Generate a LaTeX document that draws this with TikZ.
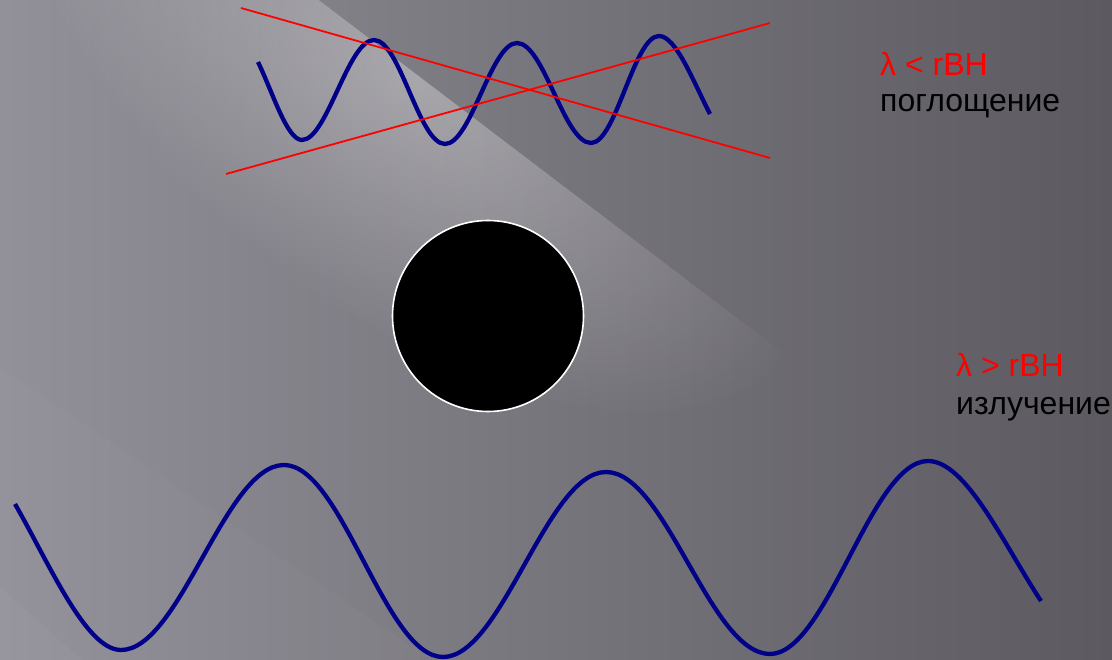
\documentclass[tikz,border=0pt]{standalone}
\usepackage{fontspec}
\setmainfont{Liberation Sans}
\definecolor{bgleft}{RGB}{146,144,152}
\definecolor{bgright}{RGB}{92,90,96}
\definecolor{wavenavy}{RGB}{0,0,136}
\definecolor{crossred}{RGB}{255,0,0}
\begin{document}
\begin{tikzpicture}[x=1pt,y=-1pt,
  wave/.style={draw=wavenavy, line width=4.3pt, line join=round},
  cross/.style={draw=crossred, line width=1.8pt},
  caption/.style={font=\fontsize{32}{38}\selectfont, anchor=base west, inner sep=0pt},
  hole/.style={circle, fill=black, draw=white, line width=1.6pt, minimum size=191pt, inner sep=0pt},
  glow/.style={fill=white, opacity=#1}]
\useasboundingbox (0,0) rectangle (1112,660);

% slide background: grey gradient
\shade[left color=bgleft, right color=bgright] (0,0) rectangle (1112,660);

% main light streak, sharp on its upper right edge, soft elsewhere
\begin{scope}
  \clip (316,-2) -- (1200,670) -- (-10,670) -- (-10,-2) -- cycle;
  \begin{scope}[transform canvas={shift={(420,79)}, rotate=-37.2}]
    \shade[blend mode=screen, inner color=white!32!black, outer color=black]
      (-460,-235) rectangle (460,235);
  \end{scope}
\end{scope}

% faint secondary streaks in the lower left
\begin{scope}
  \clip (0,367) -- (420,652) -- (420,670) -- (-10,670) -- cycle;
  \fill[glow=0.025] (-10,300) rectangle (420,670);
\end{scope}
\fill[glow=0.03] (0,587) -- (82,660) -- (0,660) -- cycle;

% short wave (absorbed) with its crossing-out lines
\draw[wave] (258,62) .. controls (273,93) and (287,140) .. (302,140)
  .. controls (327,140) and (348,40) .. (374,40)
  .. controls (400,40) and (419,144) .. (445,144)
  .. controls (471,144) and (491,43) .. (517,43)
  .. controls (544,43) and (564,143) .. (591,143)
  .. controls (616,143) and (634,36) .. (659,36)
  .. controls (676,36) and (693,81) .. (710,114);

\coordinate (xa1) at (241,8);
\coordinate (xa2) at (770,158);
\coordinate (xb1) at (226,174);
\coordinate (xb2) at (770,23);
\draw[cross] (xa1) -- (xa2);
\draw[cross] (xb1) -- (xb2);

% black hole
\node[hole] (bh) at (488,316) {};

% long wave (emitted)
\draw[wave] (15,504) .. controls (50,565) and (86,650) .. (121,650)
  .. controls (180,650) and (225,465) .. (284,465)
  .. controls (342,465) and (385,657) .. (443,657)
  .. controls (502,657) and (547,472) .. (606,472)
  .. controls (666,472) and (710,654) .. (770,654)
  .. controls (827,654) and (871,461) .. (928,461)
  .. controls (966,461) and (1003,543) .. (1041,601);

% captions
\node[caption, text=crossred] (abscond) at (880,76) {λ < rBH};
\node[caption] (abstxt) at (880,112) {поглощение};
\node[caption, text=crossred] (emicond) at (956,377) {λ > rBH};
\node[caption] (emitxt) at (956,414) {излучение};
\end{tikzpicture}
\end{document}
